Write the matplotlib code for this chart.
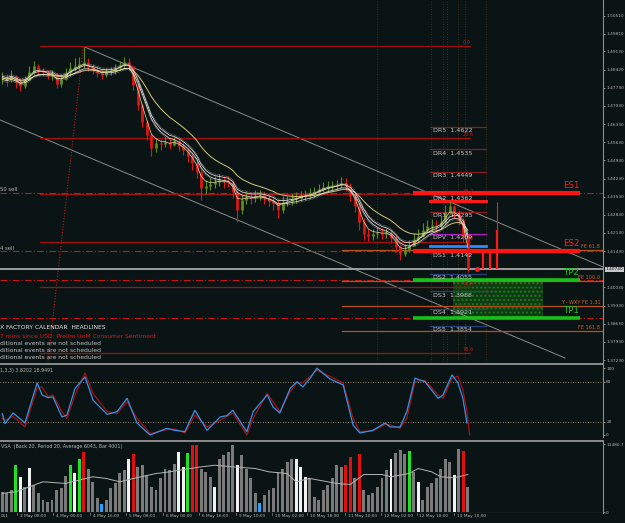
import numpy as np
import pandas as pd
import matplotlib
matplotlib.use('Agg')
import matplotlib.pyplot as plt
from matplotlib.patches import Rectangle


#-----------------------------------------------------------------------------#
# EURUSD, 2-hour bars, 2 - 13 May 2011

closes = [1.4811, 1.4803, 1.4818, 1.4795, 1.4780, 1.4803, 1.4834, 1.4857, 1.4842, 1.4834,
          1.4822, 1.4826, 1.4788, 1.4807, 1.4830, 1.4849, 1.4857, 1.4865, 1.4872, 1.4853,
          1.4842, 1.4830, 1.4822, 1.4834, 1.4838, 1.4849, 1.4861, 1.4872, 1.4857, 1.4784,
          1.4707, 1.4641, 1.4591, 1.4541, 1.4560, 1.4556, 1.4564, 1.4552, 1.4568, 1.4548,
          1.4533, 1.4510, 1.4483, 1.4448, 1.4386, 1.4394, 1.4402, 1.4410, 1.4417, 1.4413,
          1.4410, 1.4371, 1.4302, 1.4340, 1.4352, 1.4348, 1.4356, 1.4360, 1.4348, 1.4336,
          1.4329, 1.4302, 1.4333, 1.4336, 1.4344, 1.4348, 1.4356, 1.4360, 1.4363, 1.4371,
          1.4383, 1.4390, 1.4394, 1.4394, 1.4398, 1.4406, 1.4394, 1.4356, 1.4317, 1.4255,
          1.4209, 1.4201, 1.4209, 1.4213, 1.4209, 1.4213, 1.4194, 1.4159, 1.4132, 1.4147,
          1.4163, 1.4186, 1.4201, 1.4224, 1.4240, 1.4244, 1.4240, 1.4255, 1.4294, 1.4317,
          1.4294, 1.4263, 1.4201, 1.4074]

highs = [1.4834, 1.4826, 1.4842, 1.4822, 1.4811, 1.4818, 1.4857, 1.4876, 1.4865, 1.4849,
         1.4842, 1.4842, 1.4830, 1.4826, 1.4849, 1.4872, 1.4888, 1.4892, 1.4930, 1.4888,
         1.4865, 1.4857, 1.4842, 1.4849, 1.4853, 1.4865, 1.4876, 1.4892, 1.4888, 1.4857,
         1.4788, 1.4714, 1.4649, 1.4595, 1.4579, 1.4575, 1.4583, 1.4575, 1.4583, 1.4572,
         1.4560, 1.4541, 1.4518, 1.4491, 1.4456, 1.4417, 1.4425, 1.4433, 1.4440, 1.4433,
         1.4433, 1.4413, 1.4379, 1.4360, 1.4371, 1.4371, 1.4379, 1.4379, 1.4371, 1.4363,
         1.4356, 1.4344, 1.4356, 1.4356, 1.4367, 1.4371, 1.4375, 1.4379, 1.4386, 1.4390,
         1.4402, 1.4410, 1.4413, 1.4413, 1.4417, 1.4429, 1.4425, 1.4406, 1.4367, 1.4325,
         1.4271, 1.4228, 1.4228, 1.4236, 1.4232, 1.4232, 1.4224, 1.4201, 1.4167, 1.4171,
         1.4186, 1.4213, 1.4228, 1.4252, 1.4263, 1.4267, 1.4263, 1.4279, 1.4321, 1.4336,
         1.4321, 1.4302, 1.4271, 1.4209]

lows = [1.4788, 1.4780, 1.4795, 1.4772, 1.4761, 1.4772, 1.4803, 1.4826, 1.4826, 1.4818,
        1.4807, 1.4803, 1.4772, 1.4776, 1.4803, 1.4818, 1.4838, 1.4842, 1.4849, 1.4838,
        1.4826, 1.4815, 1.4807, 1.4815, 1.4822, 1.4826, 1.4842, 1.4849, 1.4842, 1.4764,
        1.4687, 1.4622, 1.4572, 1.4510, 1.4525, 1.4533, 1.4545, 1.4537, 1.4548, 1.4529,
        1.4514, 1.4487, 1.4456, 1.4425, 1.4340, 1.4363, 1.4379, 1.4386, 1.4394, 1.4386,
        1.4390, 1.4348, 1.4255, 1.4286, 1.4325, 1.4325, 1.4333, 1.4340, 1.4325, 1.4317,
        1.4302, 1.4271, 1.4290, 1.4317, 1.4321, 1.4329, 1.4336, 1.4340, 1.4344, 1.4352,
        1.4360, 1.4371, 1.4375, 1.4375, 1.4379, 1.4386, 1.4375, 1.4336, 1.4294, 1.4224,
        1.4186, 1.4182, 1.4186, 1.4194, 1.4190, 1.4194, 1.4174, 1.4140, 1.4109, 1.4124,
        1.4140, 1.4163, 1.4178, 1.4198, 1.4217, 1.4221, 1.4217, 1.4232, 1.4248, 1.4286,
        1.4271, 1.4244, 1.4178, 1.4062]

volumes = [3470, 3190, 3750, 7950, 5990, 4310, 7500, 4590, 3190, 2070,
           1790, 2070, 3750, 4030, 6160, 8060, 6550, 8960, 10190, 7390,
           5150, 2350, 1340, 2070, 4030, 4870, 6550, 7110, 8960, 9910,
           7670, 7950, 6270, 4310, 3750, 5710, 7390, 7110, 8230, 10190,
           7670, 10080, 11310, 11310, 7390, 6830, 5990, 4310, 9070, 9630,
           10190, 11420, 7950, 9630, 7390, 5710, 3190, 1510, 2910, 3750,
           4030, 6830, 7390, 8510, 9070, 8960, 7670, 5990, 5710, 2630,
           2070, 3750, 4590, 5710, 7950, 7670, 7950, 9350, 5710, 9800,
           3750, 2910, 3190, 4310, 5710, 7110, 8960, 10080, 10470, 9910,
           10360, 6830, 5040, 2070, 4310, 4870, 5710, 7390, 9070, 8510,
           6270, 10640, 10360, 4310]

# VSA bar classes (g = green, w = white, r = red, b = blue), others grey
vsa_flags = {3: 'g', 4: 'w', 6: 'w', 15: 'g', 16: 'w', 17: 'g', 18: 'r', 22: 'b',
             28: 'w', 29: 'r', 39: 'w', 40: 'w', 41: 'g', 42: 'r', 43: 'r', 47: 'w',
             52: 'w', 57: 'b', 65: 'w', 66: 'w', 67: 'w', 76: 'r', 77: 'r', 79: 'r',
             86: 'w', 90: 'g', 92: 'w', 100: 'w', 102: 'r'}

vol_avg_pos = [0, 3, 7, 9, 14, 20, 23, 26, 29, 34, 36, 44, 47, 51, 56, 59, 63, 65, 68,
               74, 77, 80, 84, 86, 90, 92, 95, 97, 100, 103]
vol_avg = [3190, 3470, 4590, 5150, 4870, 5990, 5710, 5150, 5710, 6550, 6720, 7670, 7950,
           7670, 7390, 6830, 6550, 5150, 5710, 4870, 4700, 6380, 6380, 5990, 6550, 7390,
           6830, 5990, 5820, 6380]

stoch_pos = [0, 0.6, 2.4, 5.0, 7.7, 8.8, 10.1, 11.2, 13.2, 14.3, 16.1, 18.3, 20.1, 23.2,
             25.4, 27.6, 29.8, 32.7, 36.4, 38.2, 40.4, 42.6, 45.3, 48.2, 49.7, 51.0, 54.1,
             55.5, 58.6, 59.9, 61.4, 63.7, 65.2, 66.5, 68.1, 69.6, 72.5, 75.4, 77.6, 79.1,
             82.0, 84.7, 85.8, 88.0, 89.5, 91.3, 93.5, 96.4, 97.5, 99.5, 100.8, 101.9, 102.8]
stoch_k = [32, 17, 33, 18, 78, 60, 56, 57, 27, 30, 70, 87, 52, 31, 35, 55, 18, 0, 10, 7, 5,
           37, 7, 27, 29, 37, 5, 35, 60, 42, 33, 70, 80, 72, 85, 100, 84, 75, 15, 3, 7, 18,
           12, 12, 35, 85, 80, 55, 60, 90, 78, 55, 18]
stoch_d = [25, 22, 28, 12, 70, 72, 58, 60, 35, 25, 60, 93, 62, 35, 32, 50, 25, 2, 8, 9, 3,
           30, 12, 22, 28, 33, 0, 25, 62, 50, 35, 65, 78, 78, 88, 97, 88, 78, 25, 5, 6, 16,
           15, 10, 25, 80, 82, 60, 55, 85, 88, 68, 35]

pivot_names = ['DR5', 'DR4', 'DR3', 'DR2', 'DR1', 'DPV', 'DS1', 'DS2', 'DS3', 'DS4', 'DS5']
pivot_vals = [1.4622, 1.4535, 1.4449, 1.4362, 1.4295, 1.4209, 1.4142, 1.4055, 1.3988,
              1.3921, 1.3854]

fib_vals = [1.4934, 1.4579, 1.4362, 1.4180, 1.4005, 1.3752]
fib_labels = ['0.0', '23.6', '38.2', '50.0', '61.8', '78.6']

es_names = ['ES1', 'ES2']
es_vals = [1.4366, 1.4143]
tp_names = ['TP2', 'TP1']
tp_vals = [1.4032, 1.3885]

fe_vals = [1.4148, 1.4028, 1.3933, 1.3836]
fe_labels = ['FE 61.8', 'FE 100.0', 'Y - WXY FE 1.31', 'FE 161.8']

price_ticks = [1.50510, 1.49810, 1.49130, 1.48420, 1.47730, 1.47030, 1.46330, 1.45630,
               1.44930, 1.44230, 1.43530, 1.42830, 1.42130, 1.41430, 1.40030, 1.39330,
               1.38630, 1.37930, 1.37230]

time_pos = [3.25, 11.2, 19.4, 27.4, 35.6, 43.5, 51.7, 59.7, 67.4, 75.8, 83.8, 91.7, 99.9]
time_labels = ['3 May 08:00', '4 May 00:00', '4 May 16:00', '5 May 08:00', '6 May 00:00',
               '6 May 16:00', '9 May 10:00', '10 May 02:00', '10 May 18:00', '11 May 10:00',
               '12 May 02:00', '12 May 18:00', '13 May 10:00']

headlines = ['X FACTORY CALENDAR  HEADLINES',
             '7 mins since USD: Prelim UoM Consumer Sentiment',
             'ditional events are not scheduled',
             'ditional events are not scheduled',
             'ditional events are not scheduled']
headline_y = [1.3850, 1.3815, 1.3788, 1.3761, 1.3734]

#-----------------------------------------------------------------------------#

BG = '#0b1414'
GRID = '#8c8c8c'
TXT = '#b4b4b4'
W, H = 625, 523

n = len(closes)
idx = np.arange(n)
opens = [closes[0]] + closes[:-1]
XL = (-0.51, 132.9)

fig = plt.figure(figsize=(W / 100, H / 100), dpi=100)
fig.patch.set_facecolor(BG)


def panel(top, bottom):
    a = fig.add_axes([0, 1 - bottom / H, 603 / W, (bottom - top) / H])
    a.set_facecolor(BG)
    for s in ['left', 'bottom']:
        a.spines[s].set_visible(False)
    a.spines['top'].set_color(GRID)
    a.spines['top'].set_linewidth(1.4)
    a.spines['right'].set_color(GRID)
    a.spines['right'].set_linewidth(0.8)
    a.yaxis.tick_right()
    a.tick_params(axis='y', labelsize=3.1, colors=TXT, length=1.5, width=0.5, pad=0.8)
    a.set_xticks([])
    a.set_xlim(*XL)
    return a


ax = panel(0, 362)
ax.spines['top'].set_visible(False)
ax.set_ylim(1.37154, 1.51116)
ax.set_yticks(price_ticks)
ax.set_yticklabels(['%.5f' % t for t in price_ticks])

# vertical dotted lines
ax.axvline(82.9, color='#6a2424', lw=0.6, ls=(0, (1, 2)))
for xv in [94.8, 97.5, 98.4, 100.8, 102.4, 107.0]:
    ax.axvline(xv, color='#4d3822', lw=0.6, ls=(0, (1, 2)))

# channel lines
ax.plot([18.3, 132.9], [1.4930, 1.4082], color='#8a8a8a', lw=0.7)
ax.plot([-0.5, 124.5], [1.4649, 1.3731], color='#8a8a8a', lw=0.7)
ax.plot([17.9, 10.1], [1.4930, 1.3715], color='#c01818', lw=0.8, ls=(0, (1, 1.5)))
ax.plot([75.4, 87.5], [1.4420, 1.4125], color='#c01818', lw=0.6, ls=(0, (1, 2)))

# fibonacci levels
for v, lab in zip(fib_vals, fib_labels):
    ax.plot([8.3, 103.5], [v, v], color='#a01010', lw=0.9)
    ax.text(101.9, v + 0.0003, lab, color='#c01818', fontsize=3.6, va='bottom')

# zone dash-dot lines
for v in es_vals + tp_vals:
    ax.axhline(v, color='#c81414', lw=0.8, ls=(0, (6, 2, 1, 2)))

# FE projections
for v, lab in zip(fe_vals, fe_labels):
    ax.plot([75.2, 133], [v, v], color='#b8501a', lw=0.9)
    ax.text(132.3, v + 0.0002, lab, color='#d06020', fontsize=3.6, ha='right', va='bottom')

# target box
ax.add_patch(Rectangle((99.7, tp_vals[1]), 19.9, tp_vals[0] - tp_vals[1],
                       facecolor='#0d3a10', edgecolor='none', zorder=1))
ax.add_patch(Rectangle((99.7, tp_vals[1]), 19.9, tp_vals[0] - tp_vals[1],
                       facecolor='none', edgecolor='#1f7a22', lw=0, hatch='....', zorder=1))

# pivots
for name, v in zip(pivot_names, pivot_vals):
    col = '#8a1c1c' if name.startswith('DR') else '#25407a'
    if name == 'DPV':
        col = '#b020c0'
    ax.plot([94.6, 107.0], [v, v], color=col, lw=0.9)
    ax.text(95.3, v - 0.0015, name + '  %.4f' % v, color='#c4c4c4', fontsize=4.6, va='center')
ax.plot([94.6, 107.0], [1.4337, 1.4337], color='#ff1a1a', lw=2.2)
ax.plot([94.6, 107.0], [1.4163, 1.4163], color='#2a8cff', lw=2.0)

# entry / target bars
for name, v in zip(es_names, es_vals):
    ax.plot([90.9, 127.8], [v, v], color='#ff1414', lw=3.0, solid_capstyle='butt')
    ax.text(126.0, v + 0.0013, name, color='#ff2020', fontsize=6.2, ha='center', va='bottom')
for name, v in zip(tp_names, tp_vals):
    ax.plot([90.9, 127.8], [v, v], color='#18c018', lw=2.6, solid_capstyle='butt')
    ax.text(126.0, v + 0.0010, name, color='#20c020', fontsize=6.2, ha='center', va='bottom')

# current price line
last = closes[-1]
ax.axhline(last, color='#a8a8a8', lw=1.3)
ax.text(1.004, last, '%.5f' % last, transform=ax.get_yaxis_transform(), fontsize=3.1,
        color='#101010', va='center', ha='left',
        bbox=dict(boxstyle='square,pad=0.12', fc='#c8c8c8', ec='none'))

# red arrows
ax.vlines([106.3, 107.9], last, es_vals[1], color='#ff1a1a', lw=1.6)
ax.vlines(109.4, last, 1.4224, color='#ff1a1a', lw=1.6)
ax.vlines(109.4, 1.4224, 1.4333, color='#ff1a1a', lw=0.8)
ax.plot([105.0], [last], 'o', color='#ff1a1a', ms=2.5)

# moving averages
cs = pd.Series(closes)
ma_fast = cs.ewm(span=6).mean().values
ma_slow = cs.ewm(span=14).mean().values
ax.plot(idx, ma_slow, color='#d8c878', lw=0.7, zorder=3)
for off in (-0.0012, 0.0012):
    ax.plot(idx, ma_fast + off, color='#9a9a9a', lw=0.5, ls=(0, (1, 1)), zorder=4)
for off in (-0.0006, 0.0006):
    ax.plot(idx, ma_fast + off, color='#e6e6e6', lw=0.55, zorder=4)
ax.plot(idx, cs.ewm(span=3).mean().values, color='#e8dca0', lw=0.5, zorder=4)

# candles
up = np.array(closes) >= np.array(opens)
ccol = np.where(up, '#5c8a1c', '#e01414')
ax.vlines(idx, lows, highs, colors=ccol, lw=0.8, zorder=2)
ax.vlines(idx, opens, closes, colors=ccol, lw=2.0, zorder=2)

# left-side texts
ax.text(-0.5, 1.4379, '50 sell', color=TXT, fontsize=3.8, va='center')
ax.text(-0.5, 1.4155, '4 sell', color=TXT, fontsize=3.8, va='center')
for k, (line, y) in enumerate(zip(headlines, headline_y)):
    col = '#e8e8e8' if k == 0 else ('#e01818' if k == 1 else '#c0c0c0')
    ax.text(-0.5, y, line, color=col, fontsize=4.3, va='center')

#-----------------------------------------------------------------------------#
# stochastic

ax_st = panel(364, 437)
ax_st.set_ylim(-3, 106.4)
ax_st.set_yticks([100, 80, 20, 0])
for lv in (80, 20):
    ax_st.axhline(lv, color='#b0a080', lw=0.6, ls=(0, (1, 2)))
ax_st.plot(stoch_pos + [103.4], stoch_d + [0], color='#a81010', lw=0.9)
ax_st.plot(stoch_pos, stoch_k, color='#3a90e8', lw=0.9)
ax_st.text(-0.4, 97, '1,3,3) 3.8202 18.9491', color=TXT, fontsize=3.4, va='center')

#-----------------------------------------------------------------------------#
# volume (VSA)

ax_v = panel(441, 513)
ax_v.set_ylim(-118, 12035)
ax_v.set_yticks([11480.7, 0])
ax_v.set_yticklabels(['11480.7', '0'])
vmap = {'g': '#22e022', 'w': '#f2f2f2', 'r': '#e01010', 'b': '#2aa0ff'}
vcol = [vmap.get(vsa_flags.get(i, ''), '#7a7a7a') for i in range(n)]
ax_v.bar(idx, volumes, width=0.65, color=vcol, linewidth=0)
ax_v.plot(vol_avg_pos, vol_avg, color='#b4b4b4', lw=0.7)
ax_v.text(-0.2, 11190, 'VSA  (Back 20, Period 20, Average 6043, Bar 4001)', color=TXT,
          fontsize=3.4, va='center')

# time axis
for p, lab in zip(time_pos, time_labels):
    ax_v.plot([p, p], [-118, -400], color=GRID, lw=0.5, clip_on=False)
    ax_v.text(p + 0.6, -700, lab, color=TXT, fontsize=3.1, va='center', ha='left', clip_on=False)
ax_v.text(-0.45, -700, '011', color=TXT, fontsize=3.1, va='center', ha='left', clip_on=False)
ax_v.axhline(-118, color=GRID, lw=0.8)

fig.savefig('out.png', dpi=100, facecolor=BG)
